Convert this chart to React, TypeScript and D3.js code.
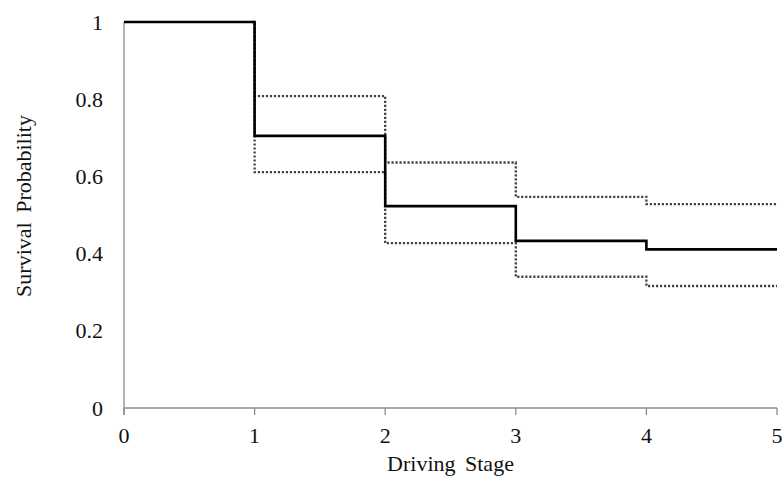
import * as d3 from "d3";

const WIDTH = 782;
const HEIGHT = 485;
const MARGIN = { top: 22, right: 5, bottom: 77, left: 124 };

const STAGES = [0, 1, 2, 3, 4, 5];
const SURVIVAL = [1, 0.705, 0.523, 0.433, 0.411, 0.411];
const UPPER = [1, 0.808, 0.636, 0.547, 0.528, 0.528];
const LOWER = [1, 0.611, 0.427, 0.34, 0.316, 0.316];
const Y_TICKS = [0, 0.2, 0.4, 0.6, 0.8, 1];
const X_TICKS = [0, 1, 2, 3, 4, 5];

const FONT = "'Liberation Serif', 'Times New Roman', serif";

export default function App() {
  const x = d3
    .scaleLinear()
    .domain([0, 5])
    .range([MARGIN.left, WIDTH - MARGIN.right]);
  const y = d3
    .scaleLinear()
    .domain([0, 1])
    .range([HEIGHT - MARGIN.bottom, MARGIN.top]);

  const step = (values: number[]) =>
    d3
      .line<number>()
      .x((_, i) => x(STAGES[i]))
      .y((v) => y(v))
      .curve(d3.curveStepAfter)(values) || "";

  const y0 = y(0);

  return (
    <svg
      width={WIDTH}
      height={HEIGHT}
      style={{ position: "absolute", left: 0, top: 0, background: "#fff" }}
      fontFamily={FONT}
    >
      <defs>
        {/* bounds only show from the first event on */}
        <clipPath id="bounds-clip">
          <rect x={x(1) - 2} y={0} width={WIDTH} height={HEIGHT} />
        </clipPath>
      </defs>

      {/* axes */}
      <line x1={x(0)} x2={x(0)} y1={y(1)} y2={y0 + 7} stroke="#8c8c8c" strokeWidth={1.3} />
      <line x1={x(0)} x2={x(5)} y1={y0} y2={y0} stroke="#8c8c8c" strokeWidth={1.3} />
      {X_TICKS.map((t) => (
        <g key={`x-${t}`}>
          <line x1={x(t)} x2={x(t)} y1={y0} y2={y0 + 7} stroke="#8c8c8c" strokeWidth={1.3} />
          <text x={x(t)} y={y0 + 35} textAnchor="middle" fontSize={22} fill="#111">
            {t}
          </text>
        </g>
      ))}
      {Y_TICKS.map((t) => (
        <text key={`y-${t}`} x={103} y={y(t) + 7.5} textAnchor="end" fontSize={22} fill="#111">
          {t}
        </text>
      ))}

      <text
        x={(x(0) + x(5)) / 2}
        y={471}
        textAnchor="middle"
        fontSize={22}
        wordSpacing={4}
        fill="#111"
      >
        Driving Stage
      </text>
      <text
        transform={`translate(31 ${(y(0) + y(1)) / 2 - 9}) rotate(-90)`}
        textAnchor="middle"
        fontSize={22}
        wordSpacing={4}
        fill="#111"
      >
        Survival Probability
      </text>

      {/* confidence bounds */}
      <g clipPath="url(#bounds-clip)">
        <path d={step(UPPER)} fill="none" stroke="#444" strokeWidth={2.3} strokeDasharray="2.2 1.8" />
        <path d={step(LOWER)} fill="none" stroke="#444" strokeWidth={2.3} strokeDasharray="2.2 1.8" />
      </g>
      {/* survival estimate */}
      <path d={step(SURVIVAL)} fill="none" stroke="#000" strokeWidth={2.6} />
    </svg>
  );
}
